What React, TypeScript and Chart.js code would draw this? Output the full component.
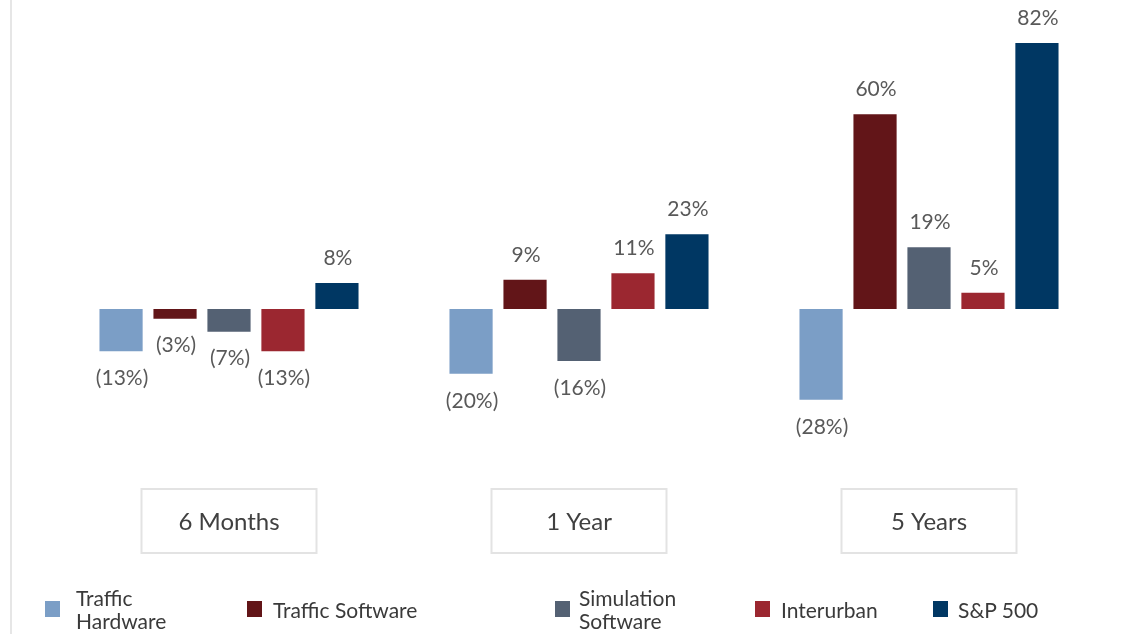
import React, { useEffect, useRef } from "react";
import { Chart, registerables } from "chart.js";

Chart.register(...registerables);

const categories = ["6 Months", "1 Year", "5 Years"];
const seriesNames = ["Traffic Hardware", "Traffic Software", "Simulation Software", "Interurban", "S&P 500"];
const legendLines = [["Traffic", "Hardware"], ["Traffic Software"], ["Simulation", "Software"], ["Interurban"], ["S&P 500"]];
const trafficHardware = [-13, -20, -28];
const trafficSoftware = [-3, 9, 60];
const simulationSoftware = [-7, -16, 19];
const interurban = [-13, 11, 5];
const sp500 = [8, 23, 82];
const seriesValues = [trafficHardware, trafficSoftware, simulationSoftware, interurban, sp500];
const colors = ["#7B9EC6", "#621518", "#546173", "#9B2730", "#003763"];

const FONT = "Lato, 'Open Sans', sans-serif";

const fmt = (v: number) => (v < 0 ? `(${Math.abs(v)}%)` : `${v}%`);

const decorPlugin = {
  id: "decor",
  beforeDraw(chart: any) {
    const ctx = chart.ctx;
    ctx.save();
    ctx.fillStyle = "#e6e6e6";
    ctx.fillRect(10, 0, 2, chart.height);
    ctx.restore();
  },
  afterDatasetsDraw(chart: any) {
    const ctx = chart.ctx;
    ctx.save();
    ctx.font = `21px ${FONT}`;
    ctx.fillStyle = "#595959";
    ctx.textAlign = "center";
    ctx.textBaseline = "middle";
    chart.data.datasets.forEach((ds: any, i: number) => {
      const meta = chart.getDatasetMeta(i);
      meta.data.forEach((bar: any, j: number) => {
        const v = ds.data[j];
        const y = v >= 0 ? bar.y - 25 : bar.y + 27;
        ctx.fillText(fmt(v), bar.x + 1, y);
      });
    });
    const xs = chart.scales.x;
    const boxW = 175;
    const boxTop = 489;
    const boxH = 64;
    ctx.font = `24px ${FONT}`;
    ctx.fillStyle = "#404040";
    ctx.strokeStyle = "#e3e3e3";
    ctx.lineWidth = 2;
    chart.data.labels.forEach((lab: string, j: number) => {
      const cx = xs.getPixelForValue(j);
      ctx.strokeRect(cx - boxW / 2, boxTop, boxW, boxH);
      ctx.fillText(lab, cx, boxTop + boxH / 2 + 1);
    });
    ctx.restore();
  },
};

const legendSquareX = [45, 247, 555, 755, 933];
const legendTextX = [76, 273, 579, 781, 958];

export default function App() {
  const ref = useRef<HTMLCanvasElement>(null);
  useEffect(() => {
    document.body.style.margin = "0";
    const chart = new Chart(ref.current!, {
      type: "bar",
      data: {
        labels: categories,
        datasets: seriesNames.map((name, i) => ({
          label: name,
          data: seriesValues[i],
          backgroundColor: colors[i],
          borderWidth: 0,
          categoryPercentage: 0.771,
          barPercentage: 0.8,
        })),
      },
      options: {
        animation: false,
        responsive: false,
        maintainAspectRatio: false,
        layout: { padding: { left: 54, right: 36, top: 10.5, bottom: 162.8 } },
        scales: {
          x: { display: false },
          y: { display: false, min: -50, max: 92 },
        },
        plugins: {
          legend: { display: false },
          tooltip: { enabled: false },
        },
      },
      plugins: [decorPlugin],
    });
    return () => chart.destroy();
  }, []);

  return (
    <div style={{ position: "relative", width: 1140, height: 634, background: "#fff", fontFamily: FONT }}>
      <canvas ref={ref} width={1140} height={634} style={{ position: "absolute", left: 0, top: 0 }} />
      {seriesNames.map((name, i) => (
        <React.Fragment key={name}>
          <div
            style={{
              position: "absolute",
              left: legendSquareX[i],
              top: 601,
              width: 15,
              height: 16,
              background: colors[i],
            }}
          />
          <div
            style={{
              position: "absolute",
              left: legendTextX[i],
              top: 609,
              transform: "translateY(-50%)",
              fontSize: 21,
              lineHeight: "23px",
              color: "#3a3a3a",
              whiteSpace: "nowrap",
            }}
          >
            {legendLines[i].map((l, k) => (
              <div key={k}>{l}</div>
            ))}
          </div>
        </React.Fragment>
      ))}
    </div>
  );
}
